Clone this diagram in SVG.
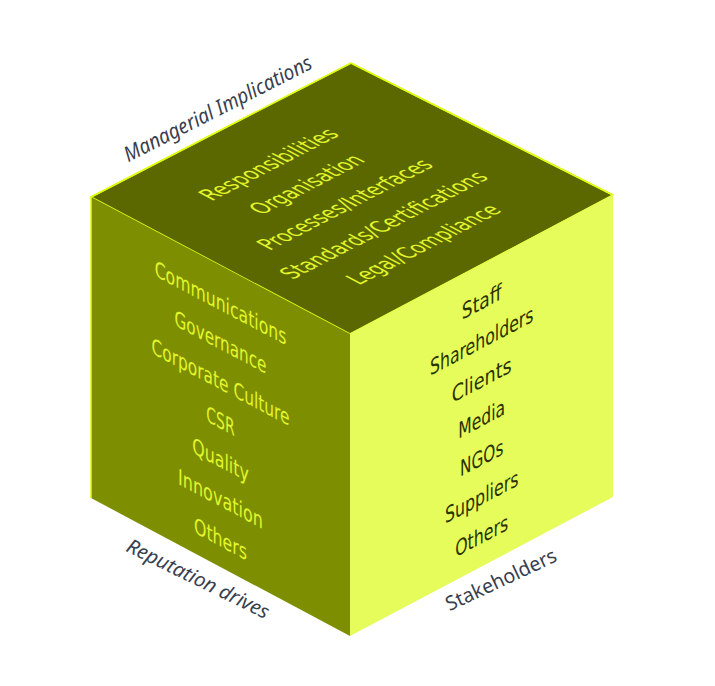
<svg xmlns="http://www.w3.org/2000/svg" width="715" height="686" viewBox="0 0 715 686">
<style>
.in{font-family:"DejaVu Sans Condensed","DejaVu Sans",sans-serif;font-stretch:condensed;text-anchor:middle}
.lt{fill:#e2f62a}
.dk{fill:#2b3200}
.out{font-family:"Noto Sans","Open Sans",sans-serif;fill:#383f4e;text-anchor:middle}
</style>
<rect width="715" height="686" fill="#ffffff"/>
<g id="cube">
<polygon id="top-face" points="91,197 351,63 613,195 350,334" fill="#5b6800" stroke="#e0ff10" stroke-width="1.5" stroke-linejoin="miter"/>
<polygon id="left-face" points="91,197 350,334 350,636 91,498" fill="#7d8f00"/>
<polygon id="right-face" points="350,334 613,195 613,497 350,636" fill="#e5fc5a"/>
<polyline points="91,498 91,197 351,63 613,195" fill="none" stroke="#e0ff10" stroke-width="1.5"/>
<line x1="350" y1="334" x2="613" y2="195" stroke="#e5fc5a" stroke-width="1"/>
</g>
<g id="top-texts" class="in lt" font-size="24" transform="matrix(0.887,-0.457,0.884,0.468,91,197)">
<text x="137" y="72" textLength="145" lengthAdjust="spacingAndGlyphs">Responsibilities</text>
<text x="137" y="115" textLength="118" lengthAdjust="spacingAndGlyphs">Organisation</text>
<text x="137" y="158" textLength="186" lengthAdjust="spacingAndGlyphs">Processes/Interfaces</text>
<text x="137" y="202" textLength="222" lengthAdjust="spacingAndGlyphs">Standards/Certifications</text>
<text x="139" y="245" textLength="162" lengthAdjust="spacingAndGlyphs">Legal/Compliance</text>
</g>
<g id="left-texts" class="in lt" font-size="22" transform="matrix(0.884,0.468,0,1,91,197)">
<text x="146.5" y="45" textLength="149" lengthAdjust="spacingAndGlyphs">Communications</text>
<text x="146.5" y="84" textLength="104" lengthAdjust="spacingAndGlyphs">Governance</text>
<text x="146.5" y="124" textLength="156" lengthAdjust="spacingAndGlyphs">Corporate Culture</text>
<text x="146.5" y="163" textLength="32" lengthAdjust="spacingAndGlyphs">CSR</text>
<text x="146.5" y="202" textLength="64" lengthAdjust="spacingAndGlyphs">Quality</text>
<text x="146.5" y="241" textLength="96" lengthAdjust="spacingAndGlyphs">Innovation</text>
<text x="146.5" y="281" textLength="60" lengthAdjust="spacingAndGlyphs">Others</text>
</g>
<g id="right-texts" class="in dk" font-size="22" transform="matrix(0.884,-0.467,0,1,350,334)">
<text x="149" y="45" textLength="45" lengthAdjust="spacingAndGlyphs">Staff</text>
<text x="149" y="84" textLength="117" lengthAdjust="spacingAndGlyphs">Shareholders</text>
<text x="149" y="123" textLength="68" lengthAdjust="spacingAndGlyphs">Clients</text>
<text x="149" y="162" textLength="53" lengthAdjust="spacingAndGlyphs">Media</text>
<text x="149" y="201" textLength="49" lengthAdjust="spacingAndGlyphs">NGOs</text>
<text x="149" y="240" textLength="83" lengthAdjust="spacingAndGlyphs">Suppliers</text>
<text x="149" y="279" textLength="60" lengthAdjust="spacingAndGlyphs">Others</text>
</g>
<g id="labels" class="out">
<text id="label-managerial" font-size="21" font-style="italic" transform="translate(221,115) rotate(-27)" textLength="208" lengthAdjust="spacingAndGlyphs">Managerial Implications</text>
<text id="label-reputation" font-size="20" font-style="italic" transform="translate(195,585) rotate(26)" textLength="156" lengthAdjust="spacingAndGlyphs">Reputation drives</text>
<text id="label-stakeholders" font-size="20" transform="translate(504,586) rotate(-25)" textLength="120" lengthAdjust="spacingAndGlyphs">Stakeholders</text>
</g>
</svg>
